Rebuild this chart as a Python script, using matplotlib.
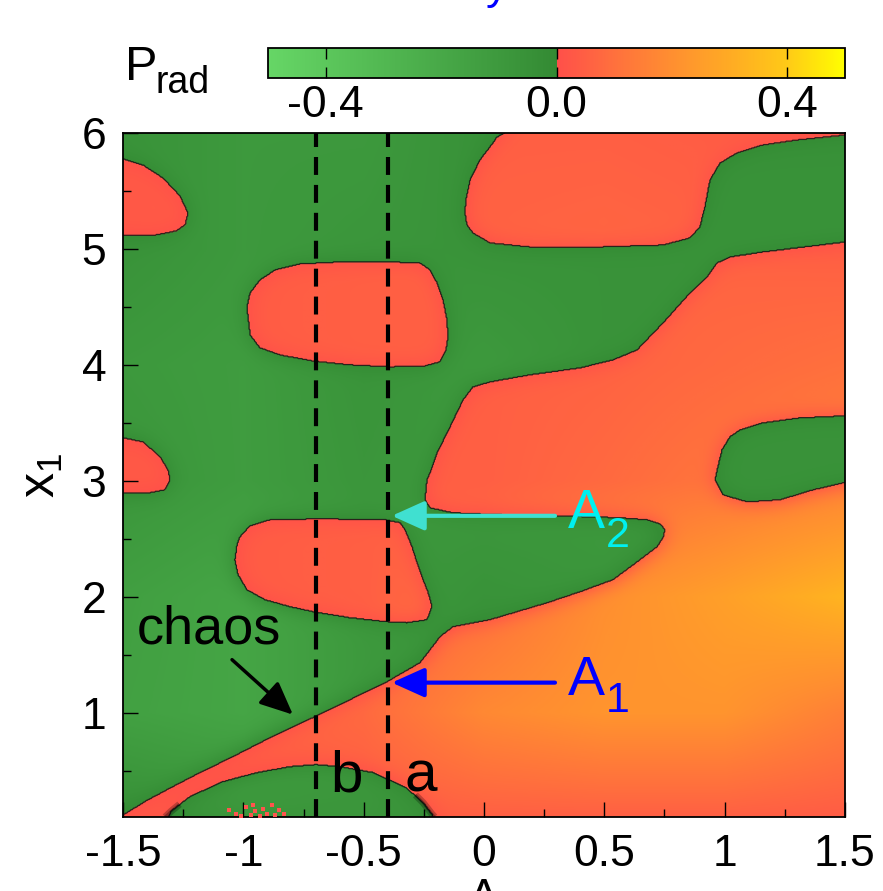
import numpy as np
import matplotlib
matplotlib.use('Agg')
import matplotlib.pyplot as plt
from matplotlib.colors import ListedColormap, Normalize
from matplotlib.path import Path

plt.rcParams['font.family'] = ['Liberation Sans', 'DejaVu Sans']
plt.rcParams['mathtext.fontset'] = 'custom'
plt.rcParams['mathtext.rm'] = 'Liberation Sans'
plt.rcParams['mathtext.it'] = 'Liberation Sans'
plt.rcParams['mathtext.default'] = 'regular'

# ---------------- data ----------------
A_lim = (-1.5, 1.5)
x1_lim = (0.1, 6.0)
xtick_vals = [-1.5, -1.0, -0.5, 0.0, 0.5, 1.0, 1.5]
xtick_labels = ['-1.5', '-1', '-0.5', '0', '0.5', '1', '1.5']
ytick_vals = [1, 2, 3, 4, 5, 6]
cbar_ticks = [-0.4, 0.0, 0.4]
cbar_labels = ['-0.4', '0.0', '0.4']
line_b = -0.7
line_a = -0.4

# red (P_rad > 0) regions: boundary vertices (A, x1)
redA_A = [-1.6, -1.5, -1.417, -1.334, -1.263, -1.230, -1.242, -1.280, -1.363, -1.6]
redA_x = [5.776, 5.776, 5.724, 5.612, 5.457, 5.310, 5.207, 5.155, 5.121, 5.121]

redB_A = [-1.6, -1.417, -1.346, -1.313, -1.305, -1.325, -1.388, -1.6]
redB_x = [3.414, 3.336, 3.207, 3.095, 3.009, 2.922, 2.897, 2.897]

redC_A = [-0.985, -0.972, -0.931, -0.868, -0.765, -0.598, -0.391, -0.266, -0.224, -0.195, -0.170,
          -0.154, -0.150, -0.158, -0.183, -0.245, -0.391, -0.557, -0.711, -0.848, -0.931, -0.972]
redC_x = [4.500, 4.621, 4.733, 4.819, 4.871, 4.888, 4.888, 4.879, 4.819, 4.707, 4.560,
          4.388, 4.241, 4.129, 4.026, 3.991, 3.983, 4.000, 4.034, 4.086, 4.147, 4.259]

redD_A = [-0.972, -0.889, -0.681, -0.411, -0.349, -0.328, -0.299, -0.278, -0.253, -0.233, -0.216, -0.237,
          -0.320, -0.403, -0.557, -0.711, -0.806, -0.910, -0.985, -1.022, -1.035, -1.026, -1.014]
redD_x = [2.612, 2.664, 2.672, 2.664, 2.638, 2.578, 2.431, 2.293, 2.147, 2.043, 1.914, 1.802,
          1.776, 1.784, 1.819, 1.871, 1.914, 1.974, 2.060, 2.190, 2.319, 2.448, 2.517]

redE_A = [0.087, 0.087, 0.054, 0.037, -0.017, -0.058, -0.075, -0.079, -0.071, -0.046, 0.025, 0.191, 0.482,
          0.744, 0.856, 0.897, 0.918, 0.939, 0.981, 1.051, 1.159, 1.301, 1.5, 1.6, 1.6]
redE_x = [6.1, 6.0, 5.966, 5.914, 5.767, 5.595, 5.422, 5.310, 5.207, 5.138, 5.052, 5.017, 5.017,
          5.034, 5.095, 5.190, 5.362, 5.595, 5.741, 5.828, 5.897, 5.940, 5.983, 5.983, 6.1]

redF_A = [1.6, 1.6, 1.5, 1.159, 1.022, 0.968, 0.927, 0.856, 0.744, 0.636, 0.536, 0.399, 0.191, 0.025,
          -0.046, -0.087, -0.141, -0.195, -0.224, -0.237, -0.245, -0.224, -0.129, 0.066, 0.316, 0.565,
          0.677, 0.731, 0.752, 0.744, 0.719, 0.648, 0.536, 0.399, 0.262, 0.150, 0.025, -0.129, -0.183,
          -0.224, -0.266, -0.403, -0.557, -0.711, -0.889, -1.043, -1.180, -1.317, -1.409, -1.483, -1.5,
          -1.6, -1.6, -1.334, -1.30, -1.222, -1.085, -0.943, -0.806, -0.698, -0.598, -0.461, -0.324,
          -0.253, -0.215, -0.199]
redF_x = [0.0, 5.060, 5.060, 4.974, 4.931, 4.879, 4.759, 4.621, 4.362, 4.129, 4.043, 3.974, 3.914, 3.853,
          3.810, 3.698, 3.466, 3.241, 3.069, 3.009, 2.836, 2.767, 2.724, 2.707, 2.698, 2.681,
          2.664, 2.629, 2.578, 2.509, 2.431, 2.319, 2.147, 2.043, 1.948, 1.879, 1.802, 1.741, 1.655,
          1.543, 1.431, 1.267, 1.112, 0.957, 0.784, 0.621, 0.483, 0.336, 0.233, 0.138, 0.121,
          0.121, 0.0, 0.0, 0.15, 0.276, 0.405, 0.483, 0.534, 0.552, 0.534, 0.483, 0.353,
          0.224, 0.12, 0.0]

# green (P_rad < 0) island inside the big red region
greenG_A = [1.6, 1.313, 1.159, 1.064, 1.022, 0.989, 0.972, 0.960, 0.993, 1.093, 1.230, 1.367, 1.6]
greenG_x = [3.569, 3.543, 3.500, 3.440, 3.379, 3.267, 3.121, 3.009, 2.879, 2.819, 2.836, 2.922, 3.034]

# dark blurred feet of the green dome (A, x1)
footL_A = [-1.325, -1.30, -1.265]
footL_x = [0.10, 0.15, 0.21]
footR_A = [-0.285, -0.253, -0.218, -0.205]
footR_x = [0.29, 0.224, 0.13, 0.10]

# chaotic speckles at the bottom of the green dome
chaos_A = [-1.06, -1.03, -0.99, -0.97, -0.95, -0.93, -0.92, -0.90, -0.88, -0.87, -0.85, -0.83, -0.96, -1.01]
chaos_x = [0.16, 0.13, 0.19, 0.12, 0.15, 0.11, 0.17, 0.13, 0.20, 0.12, 0.16, 0.13, 0.20, 0.11]

# magnitude |P_rad| read on a coarse grid
mag_A_nodes = [-1.5, -1.0, -0.5, 0.0, 0.5, 1.0, 1.5]
mag_x_nodes = [0.1, 1.0, 2.0, 3.0, 4.0, 5.0, 6.0]
red_mag = [[0.03, 0.03, 0.04, 0.05, 0.05, 0.05, 0.04],
           [0.03, 0.05, 0.08, 0.18, 0.22, 0.22, 0.15],
           [0.03, 0.04, 0.05, 0.10, 0.20, 0.26, 0.33],
           [0.03, 0.04, 0.05, 0.05, 0.08, 0.12, 0.16],
           [0.03, 0.04, 0.05, 0.05, 0.06, 0.08, 0.10],
           [0.03, 0.04, 0.05, 0.06, 0.07, 0.06, 0.05],
           [0.03, 0.03, 0.04, 0.05, 0.05, 0.04, 0.03]]
green_mag = [[0.04, 0.08, 0.08, 0.05, 0.05, 0.05, 0.05],
             [0.15, 0.18, 0.10, 0.05, 0.05, 0.05, 0.05],
             [0.14, 0.18, 0.10, 0.06, 0.08, 0.05, 0.05],
             [0.08, 0.12, 0.08, 0.10, 0.10, 0.06, 0.06],
             [0.10, 0.12, 0.07, 0.10, 0.06, 0.06, 0.06],
             [0.06, 0.10, 0.08, 0.06, 0.06, 0.06, 0.06],
             [0.06, 0.10, 0.10, 0.05, 0.05, 0.05, 0.05]]

# colour palette of the colour box
neg_vals = [-0.5, -0.25, 0.0]
neg_cols = [(0.40, 0.84, 0.40), (0.30, 0.69, 0.30), (0.20, 0.54, 0.20)]
pos_vals = [0.0, 0.1, 0.2, 0.3, 0.4, 0.5]
pos_cols = [(1.0, 0.31, 0.29), (1.0, 0.44, 0.24), (1.0, 0.56, 0.19),
            (1.0, 0.67, 0.14), (1.0, 0.79, 0.09), (1.0, 1.0, 0.0)]

# ---------------- build the field ----------------
NA, NX = 800, 800
Af = np.linspace(A_lim[0], A_lim[1], NA)
Xf = np.linspace(x1_lim[0], x1_lim[1], NX)
AA, XX = np.meshgrid(Af, Xf)
pts = np.column_stack([AA.ravel(), XX.ravel()])

sign = -np.ones(AA.shape)
for pa, px in [(redA_A, redA_x), (redB_A, redB_x), (redC_A, redC_x),
               (redD_A, redD_x), (redE_A, redE_x), (redF_A, redF_x)]:
    inside = Path(np.column_stack([pa, px])).contains_points(pts).reshape(AA.shape)
    sign[inside] = 1.0
inside = Path(np.column_stack([greenG_A, greenG_x])).contains_points(pts).reshape(AA.shape)
sign[inside] = -1.0


def blur(a, sig):
    r = int(3 * sig)
    k = np.exp(-0.5 * (np.arange(-r, r + 1) / sig) ** 2)
    k /= k.sum()
    p = np.pad(a, ((r, r), (0, 0)), mode='edge')
    a1 = np.apply_along_axis(lambda c: np.convolve(c, k, 'valid'), 0, p)
    p = np.pad(a1, ((0, 0), (r, r)), mode='edge')
    return np.apply_along_axis(lambda c: np.convolve(c, k, 'valid'), 1, p)


def grid_mag(M):
    tmp = np.array([np.interp(Af, mag_A_nodes, row) for row in M])
    return np.array([np.interp(Xf, mag_x_nodes, tmp[:, j]) for j in range(NA)]).T


dist = np.abs(blur(sign, 12))
mag = np.where(sign > 0, grid_mag(red_mag), grid_mag(green_mag))
field = sign * mag * (0.3 + 0.7 * dist)

# colour map
N = 256
nv = np.linspace(-0.5, 0.0, N, endpoint=False)
pv = np.linspace(0.0, 0.5, N)
cneg = np.column_stack([np.interp(nv, neg_vals, [c[i] for c in neg_cols]) for i in range(3)])
cpos = np.column_stack([np.interp(pv, pos_vals, [c[i] for c in pos_cols]) for i in range(3)])
cmap = ListedColormap(np.vstack([cneg, cpos]))
norm = Normalize(-0.5, 0.5)

# ---------------- figure ----------------
W, H = 883, 891
fig = plt.figure(figsize=(W / 100, H / 100), dpi=100)
ax = fig.add_axes([123 / W, 1 - 817 / H, (845 - 123) / W, (817 - 133) / H])
im = ax.imshow(field, extent=[A_lim[0], A_lim[1], x1_lim[0], x1_lim[1]], origin='lower',
               aspect='auto', cmap=cmap, norm=norm, interpolation='bilinear')
ax.contour(Af, Xf, sign, levels=[0], colors='#151515', linewidths=0.9, alpha=0.85)
for fa, fx in [(footL_A, footL_x), (footR_A, footR_x)]:
    ax.plot(fa, fx, color='black', lw=5, alpha=0.25, solid_capstyle='butt', zorder=2)
    ax.plot(fa, fx, color='black', lw=2, alpha=0.3, solid_capstyle='butt', zorder=2)
ax.scatter(chaos_A, chaos_x, s=5, marker='s', color=(1.0, 0.33, 0.3), linewidths=0, zorder=3)

for xv in (line_b, line_a):
    ax.axvline(xv, color='black', lw=3, dashes=(4.3, 2.4), zorder=4)

ax.set_xlim(*A_lim)
ax.set_ylim(*x1_lim)
ax.set_xticks(xtick_vals)
ax.set_xticklabels(xtick_labels)
ax.set_xticks(np.arange(-1.25, 1.5, 0.5), minor=True)
ax.set_yticks(ytick_vals)
ax.set_yticks(np.arange(0.5, 6.0, 1.0), minor=True)
ax.tick_params(which='major', direction='in', length=10.5, width=1.0, labelsize=32, pad=12)
ax.tick_params(which='minor', direction='in', length=5.5, width=1.0)
for sp in ax.spines.values():
    sp.set_linewidth(1.3)

# annotations
arrow_style = '-|>,head_length=1.0,head_width=0.45'
ax.annotate('', xy=(-0.383, 2.698), xytext=(0.295, 2.698),
            arrowprops=dict(arrowstyle=arrow_style, color='#40e0d0',
                            lw=3, mutation_scale=20, shrinkA=0, shrinkB=0), zorder=5)
ax.annotate('', xy=(-0.383, 1.259), xytext=(0.295, 1.259),
            arrowprops=dict(arrowstyle=arrow_style, color='#0000ff',
                            lw=3, mutation_scale=20, shrinkA=0, shrinkB=0), zorder=5)
ax.annotate('', xy=(-0.794, 0.983), xytext=(-1.047, 1.457),
            arrowprops=dict(arrowstyle=arrow_style, color='black',
                            lw=2.5, mutation_scale=20, shrinkA=0, shrinkB=0), zorder=5)
ax.text(0.349, 2.595, 'A', color='#00f0f0', fontsize=40, ha='left', va='baseline', zorder=6)
ax.text(0.505, 2.431, '2', color='#00f0f0', fontsize=31, ha='left', va='baseline', zorder=6)
ax.text(0.349, 1.155, 'A', color='#0000ff', fontsize=40, ha='left', va='baseline', zorder=6)
ax.text(0.505, 1.009, '1', color='#0000ff', fontsize=31, ha='left', va='baseline', zorder=6)
ax.text(-1.441, 1.60, 'chaos', color='black', fontsize=39, ha='left', va='baseline', zorder=6)
ax.text(-0.64, 0.32, 'b', color='black', fontsize=42, ha='left', va='baseline', zorder=6)
ax.text(-0.33, 0.32, 'a', color='black', fontsize=42, ha='left', va='baseline', zorder=6)

ax.set_ylabel(r'$x_1$', fontsize=36, labelpad=12)
fig.text(484 / W, 1 - 910 / H, 'A', fontsize=32, ha='center', va='baseline')
fig.text(497 / W, 1 + 1 / H, 'y', fontsize=32, color='#0000ff', ha='center', va='baseline')

# colour box
cax = fig.add_axes([268 / W, 1 - 78 / H, (845 - 268) / W, 30 / H])
cb = fig.colorbar(im, cax=cax, orientation='horizontal')
cb.set_ticks(cbar_ticks)
cb.set_ticklabels(cbar_labels)
cax.tick_params(axis='x', direction='in', top=True, bottom=True, length=8, width=1.0,
                labelsize=32, pad=5)
cb.outline.set_linewidth(1.3)
fig.text(125 / W, 1 - 80 / H, 'P', fontsize=35, ha='left', va='baseline')
fig.text(156 / W, 1 - 93 / H, 'rad', fontsize=27, ha='left', va='baseline')

fig.savefig('out.png', dpi=100)
